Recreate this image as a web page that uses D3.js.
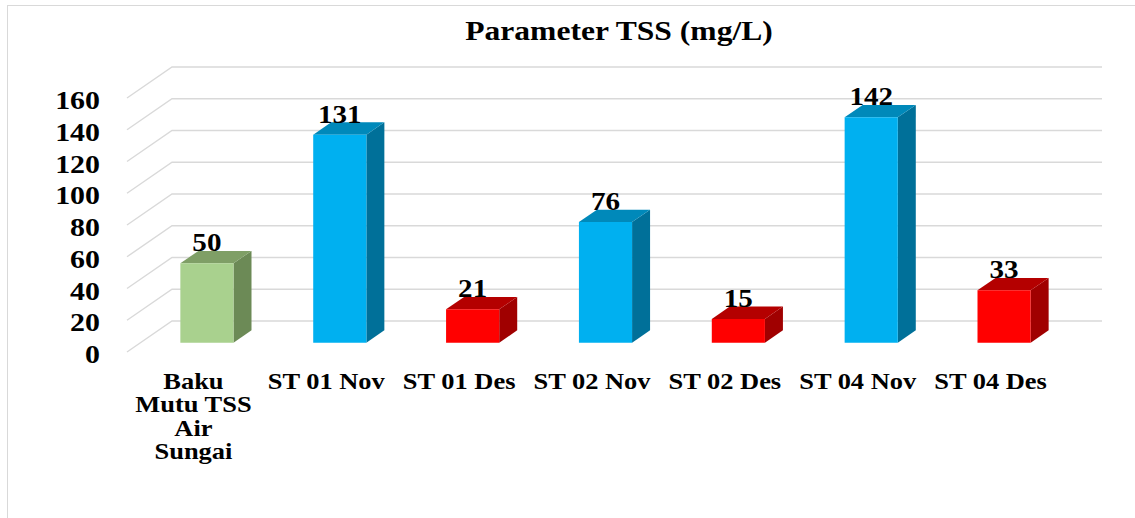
<!DOCTYPE html>
<html>
<head>
<meta charset="utf-8">
<script src="https://cdn.jsdelivr.net/npm/d3@7/dist/d3.min.js"></script>
<style>
  html, body { margin: 0; padding: 0; background: #fff; }
  svg { display: block; }
  text { font-family: "Liberation Serif", "Times New Roman", serif; font-weight: bold; fill: #000; }
</style>
</head>
<body>
<svg id="chart" width="1135" height="518"></svg>
<script>
// ---- data ----
const title = "Parameter TSS (mg/L)";
const categories = ["Baku\nMutu TSS\nAir\nSungai", "ST 01 Nov", "ST 01 Des", "ST 02 Nov", "ST 02 Des", "ST 04 Nov", "ST 04 Des"];
const values = [50, 131, 21, 76, 15, 142, 33];
const groups = ["Baku Mutu", "Nov", "Des", "Nov", "Des", "Nov", "Des"];
const yTicks = [0, 20, 40, 60, 80, 100, 120, 140, 160];

// ---- styles ----
const palette = {
  "Baku Mutu": { front: "#a9d18e", top: "#7f9f66", side: "#6c8a56" },
  "Nov": { front: "#00b0f0", top: "#0089ba", side: "#007099" },
  "Des": { front: "#ff0000", top: "#b40000", side: "#a00000" }
};

const svg = d3.select("#chart");
const DX = 45, DY = -31;          // oblique depth offset
const zFront = 0.3, zBack = 0.7;  // bar depth position

const x = d3.scaleBand().domain(categories).range([127, 1057]).paddingInner(0.6).paddingOuter(0.3);
const y = d3.scaleLinear().domain([0, 160]).range([352, 98]);
const proj = (px, v, z) => [px + z * DX, y(v) + z * DY];
const pts = arr => arr.map(p => p.join(",")).join(" ");

// border
svg.append("rect").attr("x", 7.5).attr("y", 5.5).attr("width", 1300).attr("height", 700)
  .attr("fill", "none").attr("stroke", "#d9d9d9").attr("stroke-width", 1);

// title
svg.append("text").attr("transform", "translate(619,40) scale(1.17,1)")
  .attr("text-anchor", "middle").style("font-size", "27px").text(title);

// gridlines (back wall + side wall)
const [x0, x1] = x.range();
const grid = svg.append("g");
yTicks.forEach(v => {
  const a = proj(x0, v, 0), b = proj(x0, v, 1), c = proj(x1, v, 1);
  grid.append("polyline").attr("points", pts([a, b, c]))
    .attr("fill", "none").attr("stroke", "#d9d9d9").attr("stroke-width", 1.4);
});

// y tick labels
svg.append("g").selectAll("text").data(yTicks).join("text")
  .attr("transform", d => `translate(100,${y(d) + 11}) scale(1.15,1)`)
  .attr("text-anchor", "end").style("font-size", "26px").text(d => d);

// bars
const bw = x.bandwidth();
const bars = svg.append("g").selectAll("g").data(categories.map((c, i) => ({ c, v: values[i], g: groups[i] })))
  .join("g");
bars.append("polygon").attr("fill", d => palette[d.g].side)
  .attr("points", d => { const r = x(d.c) + bw; return pts([proj(r, 0, zFront), proj(r, d.v, zFront), proj(r, d.v, zBack), proj(r, 0, zBack)]); });
bars.append("polygon").attr("fill", d => palette[d.g].top)
  .attr("points", d => { const l = x(d.c), r = l + bw; return pts([proj(l, d.v, zFront), proj(r, d.v, zFront), proj(r, d.v, zBack), proj(l, d.v, zBack)]); });
bars.append("polygon").attr("fill", d => palette[d.g].front)
  .attr("points", d => { const l = x(d.c), r = l + bw; return pts([proj(l, 0, zFront), proj(l, d.v, zFront), proj(r, d.v, zFront), proj(r, 0, zFront)]); });

// value labels
bars.append("text")
  .attr("transform", d => { const p = proj(x(d.c) + bw / 2, d.v, zFront); return `translate(${p[0]},${p[1] - 12}) scale(1.12,1)`; })
  .attr("text-anchor", "middle").style("font-size", "26px").text(d => d.v);

// category labels
const cat = svg.append("g").selectAll("text").data(categories).join("text")
  .attr("transform", d => `translate(${x(d) + bw / 2},389) scale(1.15,1)`)
  .attr("text-anchor", "middle").style("font-size", "23px");
cat.each(function (d) {
  const t = d3.select(this);
  d.split("\n").forEach((line, i) => {
    t.append("tspan").attr("x", 0).attr("dy", i === 0 ? 0 : 23.5).text(line);
  });
});
</script>
</body>
</html>
